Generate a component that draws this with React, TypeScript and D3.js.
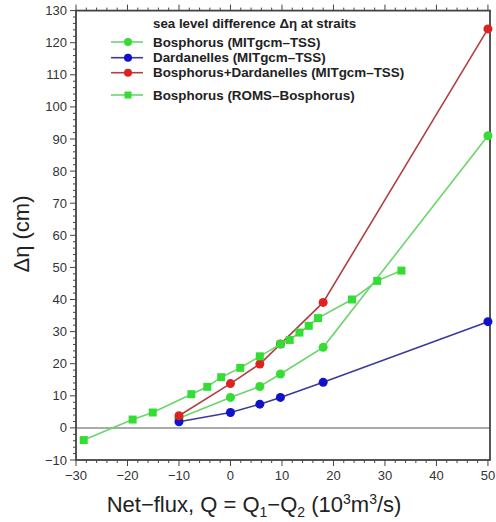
import React from "react";
import * as d3 from "d3";

const bosX = [-10, 0, 5.7, 9.7, 18, 50];
const bosY = [3, 9.5, 12.9, 16.8, 25.1, 91];
const darX = [-10, 0, 5.7, 9.7, 18, 50];
const darY = [1.9, 4.8, 7.4, 9.5, 14.2, 33.1];
const bdX = [-10, 0, 5.7, 9.7, 18, 50];
const bdY = [3.8, 13.8, 19.9, 26.1, 39.1, 124.3];
const romsX = [-28.5, -19, -15.1, -7.6, -4.5, -1.8, 1.9, 5.7, 9.7, 11.5, 13.4, 15.2, 17, 23.6, 28.5, 33.2];
const romsY = [-3.8, 2.6, 4.8, 10.5, 12.8, 15.8, 18.7, 22.3, 26.1, 27.4, 29.7, 31.8, 34.2, 40, 45.8, 49];

const xTicks = [-30, -20, -10, 0, 10, 20, 30, 40, 50];
const yTicks = [-10, 0, 10, 20, 30, 40, 50, 60, 70, 80, 90, 100, 110, 120, 130];

const legendTitle = "sea level difference \u0394\u03b7 at straits";
const legendNames = [
  "Bosphorus (MITgcm\u2013TSS)",
  "Dardanelles (MITgcm\u2013TSS)",
  "Bosphorus+Dardanelles (MITgcm\u2013TSS)",
  "Bosphorus (ROMS\u2013Bosphorus)",
];

const left = 76, right = 490, top = 10.6, bottom = 460;

export default function App() {
  const x = d3.scaleLinear().domain([-30, 50.4]).range([left, right]);
  const y = d3.scaleLinear().domain([-10, 130]).range([bottom, top]);

  const series = [
    { xs: bosX, ys: bosY, line: "#6ad66a", fill: "#33dd33", shape: "circle" },
    { xs: darX, ys: darY, line: "#3a3a99", fill: "#1111cc", shape: "circle" },
    { xs: bdX, ys: bdY, line: "#b04040", fill: "#dd2222", shape: "circle" },
    { xs: romsX, ys: romsY, line: "#6ad66a", fill: "#33dd33", shape: "square" },
  ];

  const line = d3
    .line<[number, number]>()
    .x((d) => x(d[0]))
    .y((d) => y(d[1]));

  const xMinor = d3.range(-30, 51, 2);
  const yMinor = d3.range(-10, 131, 2);
  const font = "'Liberation Sans', Arial, sans-serif";
  const legY = [42, 57.7, 72.7, 95];

  return (
    <svg width={496} height={522} style={{ position: "absolute", left: 0, top: 0 }}>
      <rect width={496} height={522} fill="#fff" />
      {/* zero line */}
      <line x1={left} x2={right} y1={y(0)} y2={y(0)} stroke="#aaa" strokeWidth={2} />

      {/* ticks */}
      {xMinor.map((v) => (
        <g key={"xm" + v} stroke="#444" strokeWidth={1}>
          <line x1={x(v)} x2={x(v)} y1={bottom} y2={bottom + (v % 10 === 0 ? 6 : 3)} />
          <line x1={x(v)} x2={x(v)} y1={top} y2={top - (v % 10 === 0 ? 6 : 3)} />
        </g>
      ))}
      {yMinor.map((v) => (
        <g key={"ym" + v} stroke="#444" strokeWidth={1}>
          <line x1={left} x2={left - (v % 10 === 0 ? 6 : 3)} y1={y(v)} y2={y(v)} />
        </g>
      ))}
      <rect x={left} y={top} width={right - left} height={bottom - top} fill="none" stroke="#444" strokeWidth={1.8} />

      {xTicks.map((v) => (
        <text key={"xt" + v} x={x(v)} y={480} textAnchor="middle" fontFamily={font} fontSize={13} fill="#333">
          {v < 0 ? "\u2212" + Math.abs(v) : v}
        </text>
      ))}
      {yTicks.map((v) => (
        <text key={"yt" + v} x={left - 9} y={y(v) + 4.5} textAnchor="end" fontFamily={font} fontSize={13} fill="#333">
          {v < 0 ? "\u2212" + Math.abs(v) : v}
        </text>
      ))}

      {/* axis titles */}
      <text x={254} y={512} textAnchor="middle" fontFamily={font} fontSize={22} fill="#222">
        Net{"\u2212"}flux, Q = Q
        <tspan fontSize={14} dy={5}>1</tspan>
        <tspan dy={-5}>{"\u2212"}Q</tspan>
        <tspan fontSize={14} dy={5}>2</tspan>
        <tspan dy={-5}> (10</tspan>
        <tspan fontSize={14} dy={-8}>3</tspan>
        <tspan dy={8}>m</tspan>
        <tspan fontSize={14} dy={-8}>3</tspan>
        <tspan dy={8}>/s)</tspan>
      </text>
      <text transform={`translate(29,${234}) rotate(-90)`} textAnchor="middle" fontFamily={font} fontSize={22} fill="#222">
        {"\u0394\u03b7 (cm)"}
      </text>

      {/* series */}
      {series.map((s, i) => {
        const pts = s.xs.map((v, j) => [v, s.ys[j]] as [number, number]);
        return (
          <g key={"s" + i}>
            <path d={line(pts) || ""} fill="none" stroke={s.line} strokeWidth={1.6} />
            {pts.map((p, j) =>
              s.shape === "circle" ? (
                <circle key={j} cx={x(p[0])} cy={y(p[1])} r={4.5} fill={s.fill} />
              ) : (
                <rect key={j} x={x(p[0]) - 4} y={y(p[1]) - 4} width={8} height={8} fill={s.fill} />
              )
            )}
          </g>
        );
      })}

      {/* legend */}
      <text x={153} y={28} fontFamily={font} fontSize={13.3} fontWeight="bold" fill="#222">
        {legendTitle}
      </text>
      {legendNames.map((n, i) => {
        const s = series[i];
        return (
          <g key={"l" + i}>
            <line x1={111} x2={143} y1={legY[i]} y2={legY[i]} stroke={s.line} strokeWidth={1.6} />
            {s.shape === "circle" ? (
              <circle cx={128} cy={legY[i]} r={4} fill={s.fill} />
            ) : (
              <rect x={124.5} y={legY[i] - 3.5} width={7} height={7} fill={s.fill} />
            )}
            <text x={153} y={legY[i] + 4.5} fontFamily={font} fontSize={13.4} fontWeight="bold" fill="#222">
              {n}
            </text>
          </g>
        );
      })}
    </svg>
  );
}
